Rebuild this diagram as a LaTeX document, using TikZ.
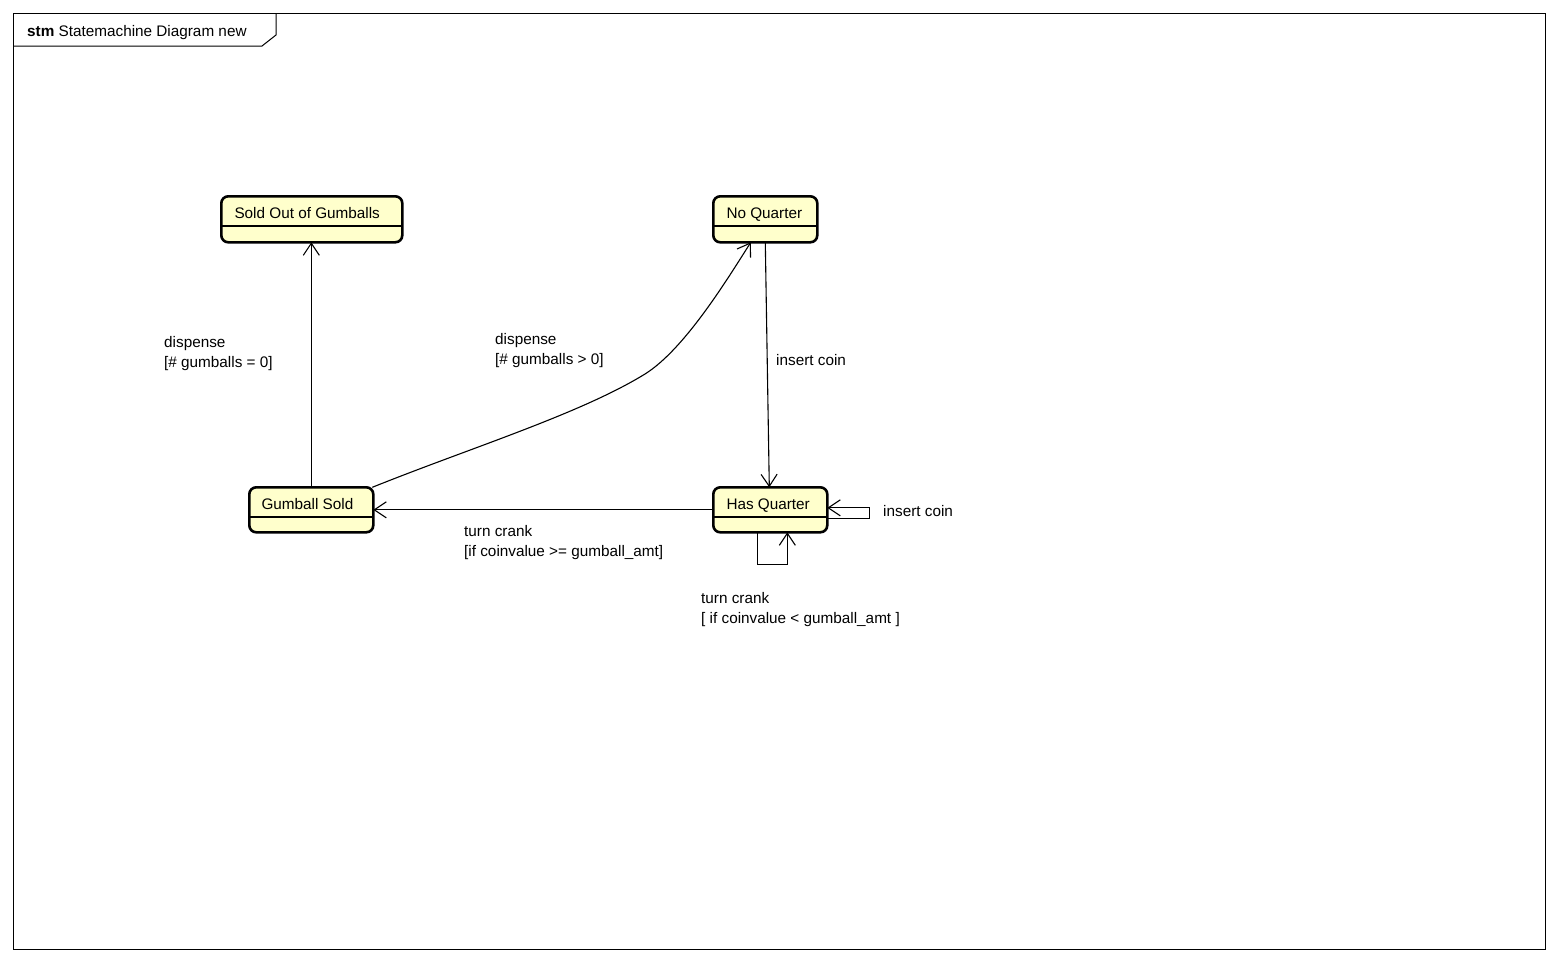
\documentclass[tikz,border=0pt]{standalone}
\usepackage{fontspec}
\setmainfont{Liberation Sans}
\usetikzlibrary{arrows.meta,calc}

\definecolor{statefill}{RGB}{255,255,204}

\tikzset{
  statebox/.style={draw, line width=2.6pt, rounded corners=7pt, fill=statefill,
    inner sep=0pt, outer sep=0pt, anchor=north west},
  divider/.style={line width=1.3pt},
  statename/.style={anchor=base west, inner sep=0pt},
  trans/.style={draw, line width=1.1pt, -{Straight Barb[length=12pt,width=16pt]}},
  guard/.style={anchor=north west, align=left, inner sep=0pt},
}

\begin{document}
\begin{tikzpicture}[x=1pt, y=-1pt, font=\fontsize{15.3}{20}\selectfont]
  \useasboundingbox (0,0) rectangle (1558,962);
  \fill[white] (0,0) rectangle (1558,962);

  % diagram frame and its name tab
  \draw[line width=1pt] (13.5,13.5) rectangle (1545.5,949.5);
  \draw[line width=1pt] (13.5,46) -- (262,46) -- (276,35) -- (276,13.5);
  \node[anchor=base west, inner sep=0pt] (title) at (27,36.5) {\textbf{stm} Statemachine Diagram new};

  % states
  \node[statebox, minimum width=181pt, minimum height=46pt] (so) at (221.3,196.3) {};
  \node[statebox, minimum width=104pt, minimum height=46pt] (nq) at (713.3,196.3) {};
  \node[statebox, minimum width=124pt, minimum height=45pt] (gs) at (249.3,487.3) {};
  \node[statebox, minimum width=114pt, minimum height=45pt] (hq) at (713.3,487.3) {};

  % compartment dividers
  \draw[divider] (so.west |- 0,226) -- (so.east |- 0,226);
  \draw[divider] (nq.west |- 0,226) -- (nq.east |- 0,226);
  \draw[divider] (gs.west |- 0,517) -- (gs.east |- 0,517);
  \draw[divider] (hq.west |- 0,517) -- (hq.east |- 0,517);

  % state names
  \node[statename] (son) at ($(so.north west)+(13,22)$) {Sold Out of Gumballs};
  \node[statename] (nqn) at ($(nq.north west)+(13,22)$) {No Quarter};
  \node[statename] (gsn) at ($(gs.north west)+(12,22)$) {Gumball Sold};
  \node[statename] (hqn) at ($(hq.north west)+(13,22)$) {Has Quarter};

  % transitions
  \draw[trans] (gs.north) -- (gs.north |- so.south);
  \draw[trans] ($(gs.north east)+(-1,0)$)
      .. controls (470,448) and (580,414) .. (645,374)
      .. controls (685,349) and (728,278) .. ($(nq.south west)+(37.5,0)$);
  \draw[trans] (nq.south) -- ($(hq.north)+(-1,0)$);
  \draw[trans] (hq.west) -- (gs.east);
  \draw[trans] ($(hq.east)+(0,9)$) -- ++(42,0) -- ++(0,-11) -- ($(hq.east)+(0,-2)$);
  \draw[trans] ($(hq.south)+(-13,0)$) -- ++(0,32) -- ++(30,0) -- ($(hq.south)+(17,0)$);

  % transition labels
  \node[guard] (l1) at (164,336) {dispense\\{}[\# gumballs = 0]};
  \node[guard] (l2) at (495,333) {dispense\\{}[\# gumballs > 0]};
  \node[guard] (l3) at (776,354) {insert coin};
  \node[guard] (l4) at (464,525) {turn crank\\{}[if coinvalue >= gumball\_amt]};
  \node[guard] (l5) at (883,505) {insert coin};
  \node[guard] (l6) at (701,592) {turn crank\\{}[ if coinvalue < gumball\_amt ]};
\end{tikzpicture}
\end{document}
